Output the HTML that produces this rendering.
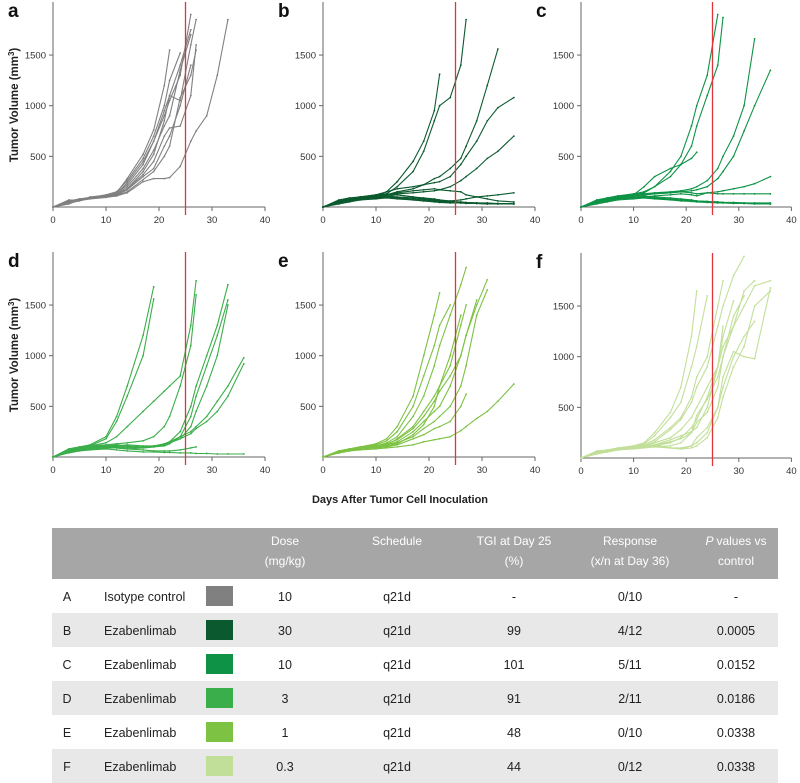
<!DOCTYPE html>
<html><head><meta charset="utf-8"><style>
html,body{margin:0;padding:0;background:#fff;}
svg{display:block;font-family:"Liberation Sans",sans-serif;}
</style></head><body>
<svg id="fig" width="800" height="783" viewBox="0 0 800 783"></svg>
<script>
const days = [0,3,5,7,10,12,14,17,19,21,22,24,26,27,29,31,33,36];
const yTicks = [500,1000,1500];
const xTicks = [0,10,20,30,40];
const cutoffDay = 25;
const seriesA = [
[0,60,70,90,110,140,280,520,760,1200,1550],
[0,50,75,95,120,150,260,480,700,1000,1250,1520],
[0,70,65,100,115,130,240,450,650,950,1100,1050,1600,1850],
[0,40,60,85,105,120,200,380,560,800,900,1350,1700],
[0,55,80,90,110,120,180,320,450,700,780,800,1100,1600],
[0,60,80,95,100,110,150,270,350,500,600,1080,1300,1550],
[0,45,70,85,100,110,140,250,280,280,290,400,650,750,900,1300,1850],
[0,50,70,90,105,130,220,420,650,900,1050,1300,1900],
[0,35,65,80,95,110,180,350,520,850,1100,1400,1750],
[0,30,70,90,100,115,170,300,380,600,700,1000,1400]];
const seriesB = [
[0,50,80,100,120,150,250,450,650,950,1310],
[0,60,80,100,110,130,200,350,550,850,1000,1080,1400,1850],
[0,40,70,90,100,120,150,180,220,280,300,380,480,600,850,1200,1560],
[0,50,70,90,110,150,180,200,220,240,250,300,420,500,650,850,980,1080],
[0,60,80,100,100,120,130,140,150,160,170,200,260,300,380,480,550,700],
[0,50,70,90,100,110,120,100,90,80,70,60,70,80,100,110,120,140],
[0,40,60,80,90,110,100,90,80,70,60,50,45,40,40,35,35,30],
[0,70,90,100,110,120,140,160,170,180,170,160,150,120,100,80,60,50],
[0,30,50,70,90,100,90,70,60,50,45,40,40,35,35,30,30,30],
[0,50,80,100,120,130,120,100,80,70,60,55,50,45,40,40,35,35],
[0,60,70,80,90,100,90,80,70,60,50,45,40,40,35,30,30,30],
[0,40,60,70,80,90,80,70,60,55,50,45,40,40,40,35,35,35]];
const seriesC = [
[0,60,90,110,130,150,200,350,500,800,1000,1300,1900],
[0,50,80,100,120,140,200,300,420,600,800,1100,1400,1870],
[0,70,90,110,120,130,140,150,160,180,200,260,380,500,700,1000,1660],
[0,40,70,90,110,120,130,140,150,160,170,200,280,350,500,750,1000,1350],
[0,60,80,100,120,200,300,380,420,480,540],
[0,50,70,90,110,120,130,140,150,140,130,140,150,160,180,200,230,300],
[0,40,60,80,90,100,110,120,130,120,110,140,130,130,130,130,130,130],
[0,50,70,90,100,110,100,90,80,70,60,55,50,45,40,40,35,35],
[0,60,80,90,100,90,80,70,60,55,50,45,40,40,35,35,30,30],
[0,30,50,70,80,90,85,75,65,60,55,50,45,40,40,35,35,30],
[0,50,60,80,90,100,90,80,70,65,60,55,50,45,45,40,40,40]];
const seriesD = [
[0,80,100,120,200,400,700,1200,1680],
[0,70,90,110,180,350,600,1000,1560],
[0,60,90,110,140,200,300,450,550,650,700,800,1300,1740],
[0,80,100,110,120,130,140,160,200,300,400,700,1100,1600],
[0,60,80,100,110,120,110,100,110,120,150,250,500,700,1000,1300,1700],
[0,50,80,100,100,110,100,90,100,110,130,200,400,600,900,1200,1550],
[0,70,90,100,110,110,120,110,110,120,140,180,300,450,700,1000,1500],
[0,60,70,90,100,100,90,100,110,130,150,200,250,300,400,550,700,980],
[0,50,70,80,90,90,80,90,100,120,140,180,230,280,350,450,600,920],
[0,40,60,70,80,70,60,50,50,45,45,40,40,35,35,30,30,30],
[0,50,70,80,90,90,80,70,60,60,60,70,90,100]];
const seriesE = [
[0,50,80,100,130,180,300,600,1000,1400,1620],
[0,60,80,100,120,160,250,500,800,1100,1300,1500],
[0,50,70,90,110,140,200,400,600,900,1100,1400,1700,1870],
[0,40,70,90,100,120,180,300,450,600,700,900,1300,1500],
[0,60,80,100,110,130,170,280,400,550,650,800,1000,1200,1550],
[0,50,70,90,100,120,150,250,350,450,500,700,1000,1200,1500,1750],
[0,40,60,80,100,110,140,200,280,350,400,500,700,900,1400,1650],
[0,50,70,80,90,100,120,180,220,280,300,350,500,620],
[0,40,60,70,80,90,100,120,150,170,180,200,260,300,380,450,550,720],
[0,60,80,90,100,110,130,220,320,500,700,1000,1400]];
const seriesF = [
[0,60,80,100,120,150,250,450,700,1200,1650],
[0,50,70,90,110,140,220,400,550,900,1100,1600],
[0,40,70,90,100,120,160,280,380,550,700,900,1300,1500,1800,1990],
[0,50,70,90,110,130,180,300,400,600,800,1000,1500,1750],
[0,60,80,95,100,110,130,180,220,260,300,500,900,1200,1550],
[0,50,70,90,100,110,120,100,90,120,150,250,500,700,1000,1200,1350],
[0,40,60,80,100,110,110,100,90,100,120,200,400,600,900,1100,1500,1650],
[0,70,80,90,100,120,150,200,280,400,500,700,900,1100,1300,1650,1750],
[0,50,60,80,100,110,120,150,200,300,380,600,900,1300],
[0,60,70,90,110,120,130,100,100,120,200,300,500,800,1050,1000,980,1680],
[0,40,60,80,90,100,110,120,150,250,420,580,800,1000,1400,1600],
[0,50,70,90,100,110,130,160,190,250,350,450,700,1000,1300,1500,1700,1750]];

const NS='http://www.w3.org/2000/svg';
const svg=document.getElementById('fig');
function mk(tag,attrs,parent,text){const e=document.createElementNS(NS,tag);for(const k in attrs)e.setAttribute(k,attrs[k]);if(text!==undefined)e.textContent=text;(parent||svg).appendChild(e);return e;}

const panels=[
 {id:'a',data:seriesA,color:'#808080',x0:53,xs:5.3,y0:207},
 {id:'b',data:seriesB,color:'#0b5a2f',x0:323,xs:5.3,y0:207},
 {id:'c',data:seriesC,color:'#0e9346',x0:581,xs:5.26,y0:207},
 {id:'d',data:seriesD,color:'#3aae4a',x0:53,xs:5.3,y0:457},
 {id:'e',data:seriesE,color:'#7dc243',x0:323,xs:5.3,y0:457},
 {id:'f',data:seriesF,color:'#c2df9a',x0:581,xs:5.26,y0:458}];
const ys=0.1013;

panels.forEach(p=>{
 const g=mk('g',{});
 
 
 const X=d=>p.x0+d*p.xs, Y=v=>p.y0-v*ys;
 const lbl=mk('text',{x:p.x0-45,y:p.y0-190,'font-size':19,'font-weight':'bold',fill:'#111'},g,p.id);
 
 
 const ya=mk('line',{x1:p.x0,y1:p.y0-205,x2:p.x0,y2:p.y0,stroke:'#666','stroke-width':1},g);
 
 
 const xa=mk('line',{x1:p.x0,y1:p.y0,x2:X(40),y2:p.y0,stroke:'#666','stroke-width':1},g);
 
 
 yTicks.forEach(t=>{
  mk('line',{x1:p.x0-4,y1:Y(t),x2:p.x0,y2:Y(t),stroke:'#666'},g);
  const tl=mk('text',{x:p.x0-7,y:Y(t)+3.5,'font-size':9.5,'text-anchor':'end',fill:'#333'},g,t);
  
  
 });
 xTicks.forEach(t=>{
  mk('line',{x1:X(t),y1:p.y0,x2:X(t),y2:p.y0+4,stroke:'#666'},g);
  const tl=mk('text',{x:X(t),y:p.y0+16,'font-size':9.5,'text-anchor':'middle',fill:'#333'},g,t);
  
  
 });
 p.data.forEach((s,i)=>{
  const pts=s.map((v,j)=>X(days[j]).toFixed(1)+','+Y(v).toFixed(1)).join(' ');
  const pl=mk('polyline',{points:pts,fill:'none',stroke:p.color,'stroke-width':1.1},g);
  
  
  s.forEach((v,j)=>{mk('circle',{cx:X(days[j]),cy:Y(v),r:0.9,fill:p.color},g);});
 });
 const rl=mk('line',{x1:X(cutoffDay),y1:p.y0-205,x2:X(cutoffDay),y2:p.y0+8,stroke:'#e0353a','stroke-width':1.3},g);
 
 
});

[105,355].forEach(cy=>{
 const t=mk('text',{x:0,y:0,'font-size':11.5,'font-weight':'bold',fill:'#222','text-anchor':'middle',transform:'translate(18,'+cy+') rotate(-90)'});
 
 
 t.appendChild(document.createTextNode('Tumor Volume (mm'));
 mk('tspan',{'font-size':8,dy:-4},t,'3');
 mk('tspan',{dy:4},t,')');
});
const xt=mk('text',{x:400,y:503,'font-size':11,'font-weight':'bold',fill:'#222','text-anchor':'middle'},svg,'Days After Tumor Cell Inoculation');



const tbl=mk('g',{});


const hdr=mk('rect',{x:52,y:528,width:726,height:51,fill:'#a6a6a6'},tbl);


const cols=[285,397,514,630,736];
const heads=[['Dose','(mg/kg)'],['Schedule',''],['TGI at Day 25','(%)'],['Response','(x/n at Day 36)'],['values vs','control']];
heads.forEach((h,i)=>{
 const t1=mk('text',{x:cols[i],y:545,'font-size':12,fill:'#fff','text-anchor':'middle'},tbl);
 if(i===4){mk('tspan',{'font-style':'italic'},t1,'P ');t1.appendChild(document.createTextNode(h[0]));}
 else t1.textContent=h[0];
 
 
 if(h[1]){const t2=mk('text',{x:cols[i],y:565,'font-size':12,fill:'#fff','text-anchor':'middle'},tbl,h[1]);
 
 }
});
const rows=[
 ['A','Isotype control','#808080','10','q21d','-','0/10','-'],
 ['B','Ezabenlimab','#0b5a2f','30','q21d','99','4/12','0.0005'],
 ['C','Ezabenlimab','#0e9346','10','q21d','101','5/11','0.0152'],
 ['D','Ezabenlimab','#3aae4a','3','q21d','91','2/11','0.0186'],
 ['E','Ezabenlimab','#7dc243','1','q21d','48','0/10','0.0338'],
 ['F','Ezabenlimab','#c2df9a','0.3','q21d','44','0/12','0.0338']];
rows.forEach((r,i)=>{
 const y=579+i*34;
 const rg=mk('g',{},tbl);
 
 
 if(i%2===1)mk('rect',{x:52,y:y,width:726,height:34,fill:'#e8e8e8'},rg);
 const cy=y+22;
 mk('text',{x:67,y:cy,'font-size':12.5,fill:'#222','text-anchor':'middle'},rg,r[0]);
 mk('text',{x:104,y:cy,'font-size':12.5,fill:'#222'},rg,r[1]);
 const sw=mk('rect',{x:206,y:y+7,width:27,height:20,fill:r[2]},rg);
 
 
 for(let k=0;k<5;k++)mk('text',{x:cols[k],y:cy,'font-size':12.5,fill:'#222','text-anchor':'middle'},rg,r[3+k]);
});
</script>
</body></html>
